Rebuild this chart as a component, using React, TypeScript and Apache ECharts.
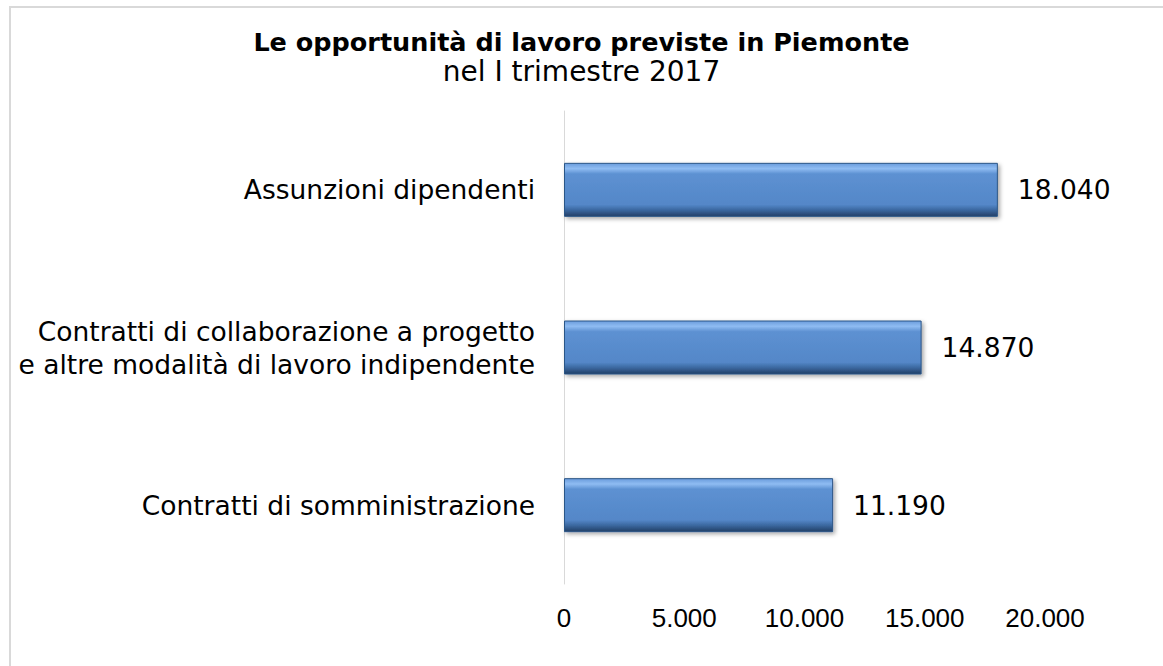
import React, { useEffect, useRef } from "react";
import * as echarts from "echarts";

const titleText = "Le opportunità di lavoro previste in Piemonte";
const subtitleText = "nel I trimestre 2017";
const categories = [
  "Assunzioni dipendenti",
  "Contratti di collaborazione a progetto\ne altre modalità di lavoro indipendente",
  "Contratti di somministrazione",
];
const values = [18040, 14870, 11190];
const axisMin = 0;
const axisMax = 20000;
const axisStep = 5000;

const fmt = (v: number) => String(Math.round(v)).replace(/\B(?=(\d{3})+(?!\d))/g, ".");

export default function App() {
  const ref = useRef<HTMLDivElement>(null);
  useEffect(() => {
    const chart = echarts.init(ref.current!, null, { renderer: "svg" });
    chart.setOption({
      animation: false,
      backgroundColor: "#ffffff",
      title: {
        text: titleText,
        subtext: subtitleText,
        left: "center",
        top: 24,
        itemGap: 2,
        textStyle: { fontFamily: "DejaVu Sans", fontWeight: "bold", fontSize: 25.5, color: "#000" },
        subtextStyle: { fontFamily: "DejaVu Sans", fontSize: 28, color: "#000" },
      },
      graphic: [
        { type: "line", shape: { x1: 10, y1: 7, x2: 10, y2: 666 }, style: { stroke: "#d9d9d9", lineWidth: 2 } },
        { type: "line", shape: { x1: 9, y1: 7, x2: 1163, y2: 7 }, style: { stroke: "#d9d9d9", lineWidth: 2 } },
      ],
      grid: { left: 564, right: 118, top: 111, bottom: 82 },
      xAxis: {
        type: "value",
        min: axisMin,
        max: axisMax,
        interval: axisStep,
        axisLine: { show: false },
        axisTick: { show: false },
        splitLine: { show: false },
        axisLabel: {
          formatter: (v: number) => fmt(v),
          fontFamily: "Liberation Sans",
          fontSize: 26,
          color: "#000",
          margin: 21,
        },
      },
      yAxis: {
        type: "category",
        data: categories,
        inverse: true,
        axisLine: { show: true, lineStyle: { color: "#d9d9d9", width: 1 } },
        axisTick: { show: false },
        axisLabel: {
          fontFamily: "DejaVu Sans",
          fontSize: 26.5,
          color: "#000",
          margin: 29,
          align: "right",
          lineHeight: 33,
        },
      },
      series: [
        {
          type: "bar",
          data: values,
          barWidth: 54,
          itemStyle: {
            color: new echarts.graphic.LinearGradient(0, 0, 0, 1, [
              { offset: 0, color: "#6a9cdc" },
              { offset: 0.1, color: "#8fbcf2" },
              { offset: 0.2, color: "#5d91d2" },
              { offset: 0.78, color: "#5487c8" },
              { offset: 0.88, color: "#3b68a0" },
              { offset: 1, color: "#223f66" },
            ]),
            borderColor: "#2c5687",
            borderWidth: 1,
            shadowColor: "rgba(0,0,0,0.35)",
            shadowBlur: 4,
            shadowOffsetX: 2,
            shadowOffsetY: 2,
          },
          label: {
            show: true,
            position: "right",
            distance: 20,
            formatter: (p: any) => fmt(p.value),
            fontFamily: "DejaVu Sans",
            fontSize: 26.5,
            color: "#000",
          },
        },
      ],
    });
    return () => chart.dispose();
  }, []);
  return (
    <div
      ref={ref}
      style={{ position: "absolute", left: 0, top: 0, width: 1163, height: 666 }}
    />
  );
}
